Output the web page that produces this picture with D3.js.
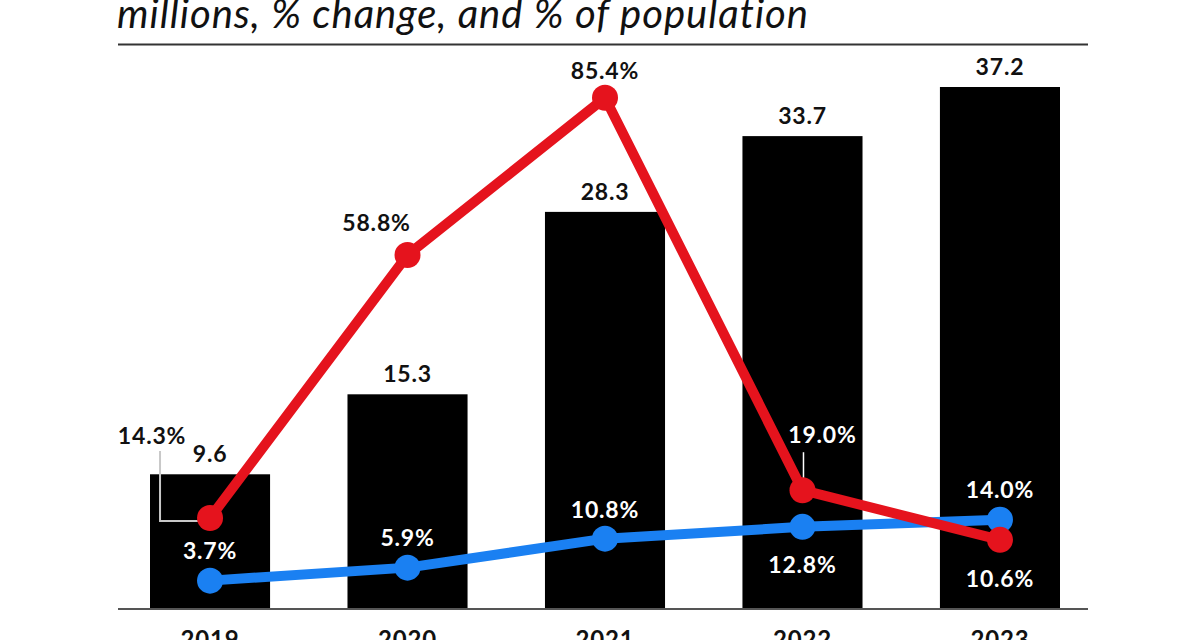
<!DOCTYPE html>
<html>
<head>
<meta charset="utf-8">
<script src="https://cdn.jsdelivr.net/npm/d3@7"></script>
<style>
  body { margin: 0; background: #fff; }
  svg { display: block; }
  text { font-family: Lato, "Noto Sans", sans-serif; }
</style>
</head>
<body>
<div id="chart"></div>
<script>
// data
const years      = ["2019", "2020", "2021", "2022", "2023"];
const users      = [9.6, 15.3, 28.3, 33.7, 37.2];      // millions (bars)
const pctChange  = [14.3, 58.8, 85.4, 19.0, 10.6];     // red line
const pctPop     = [3.7, 5.9, 10.8, 12.8, 14.0];       // blue line
const titleText  = "millions, % change, and % of population";

// label placement, relative to the point (dx, dy) and colour
const changeLabelPos = [
  { dx: -58, dy: -74, fill: "#111" },
  { dx: -31, dy: -24, fill: "#111" },
  { dx: 0,   dy: -19, fill: "#111" },
  { dx: 20,  dy: -47, fill: "#fff" },
  { dx: 0,   dy: 47,  fill: "#fff" }
];
const popLabelPos = [
  { dx: 0, dy: -22, fill: "#fff" },
  { dx: 0, dy: -22, fill: "#fff" },
  { dx: 0, dy: -21, fill: "#fff" },
  { dx: 0, dy: 46,  fill: "#fff" },
  { dx: 0, dy: -22, fill: "#fff" }
];

const W = 1200, H = 640;
const baseY = 609;
const RED = "#e5131d", BLUE = "#1a80f2";

const svg = d3.select("#chart").append("svg")
  .attr("width", W)
  .attr("height", H);

// --- scales ---
const x = d3.scaleBand()
  .domain(years)
  .range([150, 1060])
  .paddingInner(0.392)
  .paddingOuter(0);

const yBar = d3.scaleLinear()
  .domain([0, 37.2])
  .range([baseY, 87]);

const yPct = d3.scaleLinear()
  .domain([0, 100])
  .range([602.5, 11.5]);

const cx = d => x(d) + x.bandwidth() / 2;

// --- title + rule ---
svg.append("text")
  .attr("x", 117)
  .attr("y", 28)
  .style("font-size", "40px")
  .style("font-style", "italic")
  .style("letter-spacing", "1px")
  .style("fill", "#111")
  .text(titleText);

svg.append("line")
  .attr("x1", 118).attr("x2", 1088)
  .attr("y1", 44.5).attr("y2", 44.5)
  .attr("stroke", "#333")
  .attr("stroke-width", 2);

// --- bars ---
svg.selectAll(".bar")
  .data(years)
  .enter()
  .append("rect")
  .attr("class", "bar")
  .attr("x", d => x(d))
  .attr("y", (d, i) => yBar(users[i]))
  .attr("width", x.bandwidth())
  .attr("height", (d, i) => baseY - yBar(users[i]))
  .attr("fill", "#000");

svg.selectAll(".bar-label")
  .data(years)
  .enter()
  .append("text")
  .attr("x", d => cx(d))
  .attr("y", (d, i) => yBar(users[i]) - 12)
  .attr("text-anchor", "middle")
  .style("font-size", "23px")
  .style("font-weight", 700)
  .style("letter-spacing", "0.8px")
  .style("fill", "#111")
  .text((d, i) => users[i].toFixed(1));

// --- x axis ---
const xAxis = svg.append("g")
  .attr("transform", `translate(0,${baseY})`)
  .call(d3.axisBottom(x).tickSize(0).tickPadding(22));
xAxis.select(".domain").remove();
xAxis.selectAll("text")
  .style("font-family", "Lato, sans-serif")
  .style("font-size", "24px")
  .style("font-weight", 700)
  .style("letter-spacing", "0.8px")
  .style("fill", "#111")
  .attr("dy", "0.71em");

svg.append("line")
  .attr("x1", 118).attr("x2", 1088)
  .attr("y1", baseY).attr("y2", baseY)
  .attr("stroke", "#555")
  .attr("stroke-width", 2);

// --- leader lines ---
const p0 = { x: cx(years[0]), y: yPct(pctChange[0]) };
svg.append("path")
  .attr("d", `M${p0.x - 50},${p0.y - 67} V${p0.y + 3} H${p0.x}`)
  .attr("fill", "none")
  .attr("stroke", "#c8c8c8")
  .attr("stroke-width", 2);

const p3 = { x: cx(years[3]), y: yPct(pctChange[3]) };
svg.append("line")
  .attr("x1", p3.x + 1).attr("x2", p3.x + 1)
  .attr("y1", p3.y - 38).attr("y2", p3.y - 6)
  .attr("stroke", "#fff")
  .attr("stroke-width", 1.5);

// --- lines ---
function drawSeries(values, color) {
  const line = d3.line()
    .x((d, i) => cx(years[i]))
    .y(d => yPct(d));

  svg.append("path")
    .datum(values)
    .attr("d", line)
    .attr("fill", "none")
    .attr("stroke", color)
    .attr("stroke-width", 10)
    .attr("stroke-linejoin", "round");

  svg.selectAll(null)
    .data(values)
    .enter()
    .append("circle")
    .attr("cx", (d, i) => cx(years[i]))
    .attr("cy", d => yPct(d))
    .attr("r", 13)
    .attr("fill", color);
}

drawSeries(pctPop, BLUE);
drawSeries(pctChange, RED);

// --- point labels ---
function drawLabels(values, pos) {
  svg.selectAll(null)
    .data(values)
    .enter()
    .append("text")
    .attr("x", (d, i) => cx(years[i]) + pos[i].dx)
    .attr("y", (d, i) => yPct(d) + pos[i].dy)
    .attr("text-anchor", "middle")
    .style("font-size", "23px")
    .style("font-weight", 700)
    .style("letter-spacing", "0.8px")
    .style("fill", (d, i) => pos[i].fill)
    .text(d => d.toFixed(1) + "%");
}

drawLabels(pctChange, changeLabelPos);
drawLabels(pctPop, popLabelPos);
</script>
</body>
</html>
